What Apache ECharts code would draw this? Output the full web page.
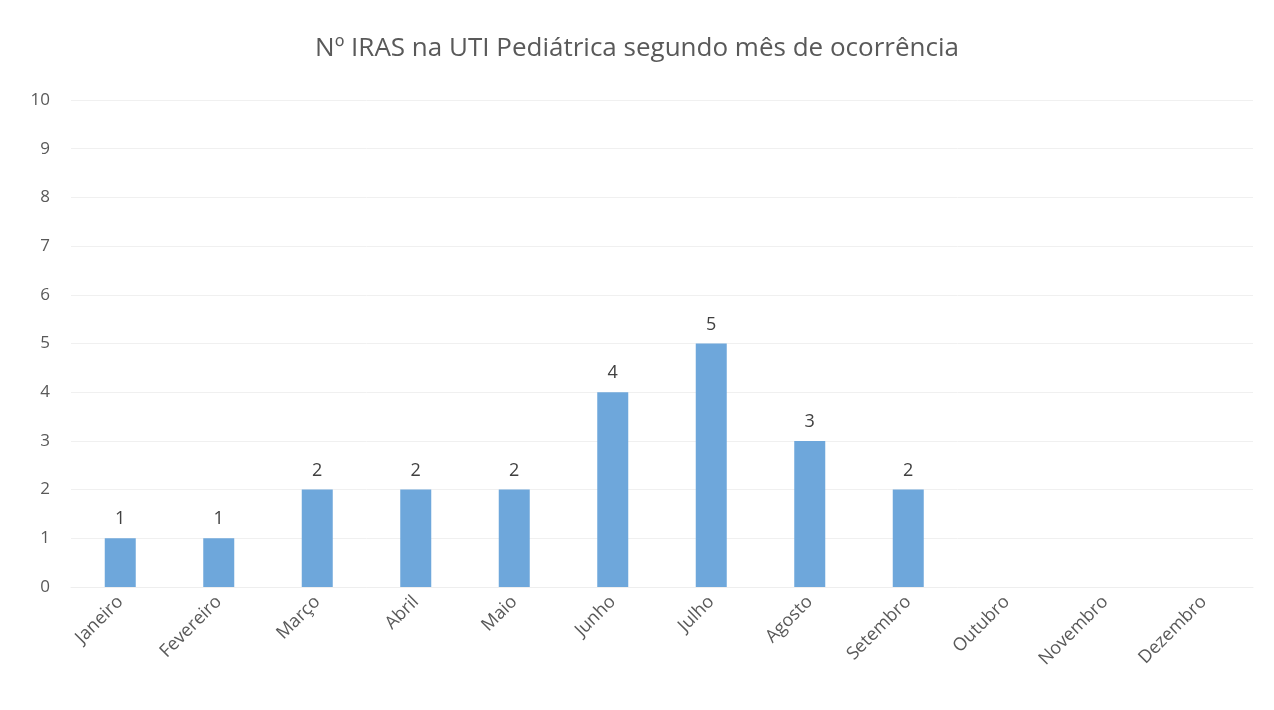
<!DOCTYPE html>
<html>
<head>
<meta charset="utf-8">
<script src="https://cdn.jsdelivr.net/npm/echarts@6/dist/echarts.min.js"></script>
<style>
  html, body { margin: 0; padding: 0; background: #fff; }
  #chart { width: 1274px; height: 710px; }
</style>
</head>
<body>
<div id="chart"></div>
<script>
// dados
var meses = ['Janeiro', 'Fevereiro', 'Março', 'Abril', 'Maio', 'Junho',
    'Julho', 'Agosto', 'Setembro', 'Outubro', 'Novembro', 'Dezembro'];
var iras = [1, 1, 2, 2, 2, 4, 5, 3, 2, null, null, null];

var myChart = echarts.init(document.getElementById('chart'));

var option = {
    backgroundColor: '#fff',
    title: {
        text: 'Nº IRAS na UTI Pediátrica segundo mês de ocorrência',
        left: 'center',
        top: 31,
        textStyle: {
            fontFamily: 'Open Sans',
            fontWeight: 'normal',
            fontSize: 26,
            color: '#595959'
        }
    },
    grid: {
        left: 71,
        right: 21,
        top: 100,
        bottom: 123
    },
    xAxis: {
        type: 'category',
        data: meses,
        axisLine: { show: true, lineStyle: { color: '#eeeeee' } },
        axisTick: { show: false },
        axisLabel: {
            rotate: 45,
            margin: 12,
            fontFamily: 'Open Sans',
            fontSize: 18,
            color: '#595959'
        }
    },
    yAxis: {
        type: 'value',
        min: 0,
        max: 10,
        interval: 1,
        axisLine: { show: false },
        axisTick: { show: false },
        axisLabel: {
            margin: 21,
            fontFamily: 'Open Sans',
            fontSize: 17,
            color: '#595959'
        },
        splitLine: { lineStyle: { color: '#f0f0f0' } }
    },
    series: [{
        type: 'bar',
        data: iras,
        barWidth: 31,
        itemStyle: { color: '#6ea7db' },
        label: {
            show: true,
            position: 'top',
            distance: 10,
            fontFamily: 'Open Sans',
            fontSize: 18,
            color: '#404040'
        }
    }]
};

myChart.setOption(option);
</script>
</body>
</html>
